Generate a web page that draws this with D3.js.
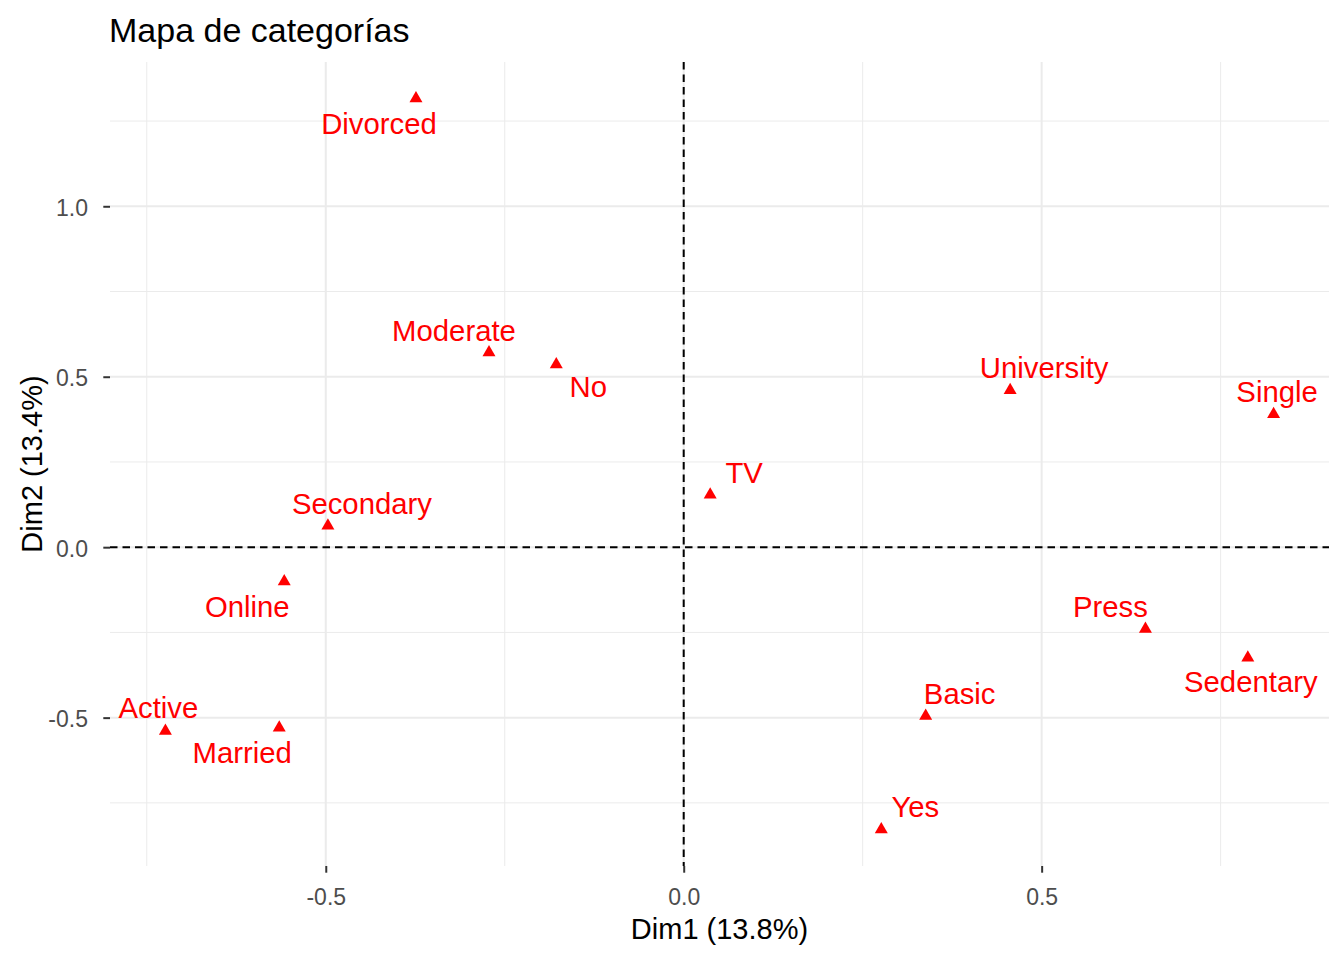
<!DOCTYPE html>
<html>

<head>
	<meta charset="UTF-8">
	<title>Mapa de categorías</title>
	<script src="https://cdn.jsdelivr.net/npm/d3@7"></script>
	<style>
		body {
			margin: 0;
			background: #fff;
		}

		svg {
			display: block;
			font-family: "Liberation Sans", Arial, sans-serif;
		}

		.grid-major {
			stroke: #ebebeb;
			stroke-width: 2px;
		}

		.grid-minor {
			stroke: #ebebeb;
			stroke-width: 1px;
		}

		.axis .tick line {
			stroke: #333;
			stroke-width: 2px;
		}

		.axis .tick text {
			fill: #4d4d4d;
			font-size: 23px;
		}

		.zero-line {
			stroke: #000;
			stroke-width: 2px;
			stroke-dasharray: 7.5 5;
		}

		.point {
			fill: #ff0000;
		}

		.label {
			fill: #ff0000;
			font-size: 29.3px;
			text-anchor: middle;
		}
	</style>
</head>

<body>
	<svg id="chart" width="1344" height="960"></svg>

	<script>
		// MCA variable categories (coordinates on Dim1 / Dim2)
		const categories = ['Divorced', 'Moderate', 'No', 'University', 'Single', 'TV', 'Secondary',
			'Online', 'Press', 'Sedentary', 'Basic', 'Active', 'Married', 'Yes'];
		const dim1 = [-0.374, -0.272, -0.178, 0.456, 0.824, 0.037, -0.497,
			-0.558, 0.645, 0.788, 0.338, -0.724, -0.565, 0.276];
		const dim2 = [1.316, 0.571, 0.536, 0.460, 0.390, 0.154, 0.063,
			-0.101, -0.240, -0.324, -0.495, -0.539, -0.530, -0.828];
		// side of the point where each (repelled) label ended up
		const labelSide = ['dl', 'ul', 'dr', 'ur', 'u', 'ur', 'ur',
			'dl', 'ul', 'd', 'ur', 'uw', 'dl', 'ur'];

		const xTicks = [-0.5, 0, 0.5];
		const yTicks = [-0.5, 0, 0.5, 1.0];
		const xMinor = [-0.75, -0.25, 0.25, 0.75];
		const yMinor = [-0.75, -0.25, 0.25, 0.75, 1.25];

		const title = 'Mapa de categorías';
		const xTitle = 'Dim1 (13.8%)';
		const yTitle = 'Dim2 (13.4%)';

		const sideOffset = {
			ul: [-35, -12], ur: [34, -12], dl: [-37, 35], dr: [32, 33],
			u: [3.5, -12.3], uw: [-7, -13.3], d: [3, 34]
		};

		const panel = { left: 110, right: 1329, top: 62, bottom: 866 };
		const svg = d3.select('#chart');

		function expand(ext) {
			const pad = (ext[1] - ext[0]) * 0.05;
			return [ext[0] - pad, ext[1] + pad];
		}

		const x = d3.scaleLinear().domain(expand(d3.extent(dim1))).range([panel.left, panel.right]);
		const y = d3.scaleLinear().domain(expand(d3.extent(dim2))).range([panel.bottom, panel.top]);

		// grid
		const grid = svg.append('g');
		grid.selectAll('.gx-minor').data(xMinor).enter().append('line')
			.attr('class', 'grid-minor')
			.attr('x1', d => x(d)).attr('x2', d => x(d))
			.attr('y1', panel.top).attr('y2', panel.bottom);
		grid.selectAll('.gy-minor').data(yMinor).enter().append('line')
			.attr('class', 'grid-minor')
			.attr('x1', panel.left).attr('x2', panel.right)
			.attr('y1', d => y(d)).attr('y2', d => y(d));
		grid.selectAll('.gx-major').data(xTicks).enter().append('line')
			.attr('class', 'grid-major')
			.attr('x1', d => x(d)).attr('x2', d => x(d))
			.attr('y1', panel.top).attr('y2', panel.bottom);
		grid.selectAll('.gy-major').data(yTicks).enter().append('line')
			.attr('class', 'grid-major')
			.attr('x1', panel.left).attr('x2', panel.right)
			.attr('y1', d => y(d)).attr('y2', d => y(d));

		// axes (R prints a plain hyphen for negatives)
		const fmt = d => d3.format('.1f')(d).replace('\u2212', '-');
		svg.append('g')
			.attr('class', 'axis')
			.attr('transform', `translate(0,${panel.bottom})`)
			.call(d3.axisBottom(x).tickValues(xTicks).tickFormat(fmt).tickSize(6.7).tickPadding(16))
			.call(g => g.select('.domain').remove());
		svg.append('g')
			.attr('class', 'axis')
			.attr('transform', `translate(${panel.left},0)`)
			.call(d3.axisLeft(y).tickValues(yTicks).tickFormat(fmt).tickSize(6.7).tickPadding(15.3))
			.call(g => g.select('.domain').remove())
			.call(g => g.selectAll('.tick text').attr('dy', '0.39em'));

		// dashed reference lines at the origin
		svg.append('line').attr('class', 'zero-line')
			.attr('x1', panel.left).attr('x2', panel.right)
			.attr('y1', y(0)).attr('y2', y(0));
		svg.append('line').attr('class', 'zero-line')
			.attr('x1', x(0)).attr('x2', x(0))
			.attr('y1', panel.top).attr('y2', panel.bottom);

		// points + labels
		const pts = categories.map((c, i) => ({ name: c, x: dim1[i], y: dim2[i], side: labelSide[i] }));
		const sym = d3.symbol(d3.symbolTriangle, 73);

		svg.append('g').selectAll('path').data(pts).enter().append('path')
			.attr('class', 'point')
			.attr('d', sym)
			.attr('transform', d => `translate(${x(d.x)},${y(d.y)})`);

		svg.append('g').selectAll('text').data(pts).enter().append('text')
			.attr('class', 'label')
			.attr('x', d => x(d.x) + sideOffset[d.side][0])
			.attr('y', d => y(d.y) + sideOffset[d.side][1])
			.text(d => d.name);

		// titles
		svg.append('text')
			.attr('x', 109).attr('y', 41.7)
			.attr('font-size', 34)
			.attr('fill', '#000')
			.text(title);
		svg.append('text')
			.attr('x', (panel.left + panel.right) / 2).attr('y', 939)
			.attr('text-anchor', 'middle')
			.attr('font-size', 29)
			.attr('fill', '#000')
			.text(xTitle);
		svg.append('text')
			.attr('transform', `translate(41.5,${(panel.top + panel.bottom) / 2}) rotate(-90)`)
			.attr('text-anchor', 'middle')
			.attr('font-size', 29)
			.attr('fill', '#000')
			.text(yTitle);
	</script>
</body>

</html>
